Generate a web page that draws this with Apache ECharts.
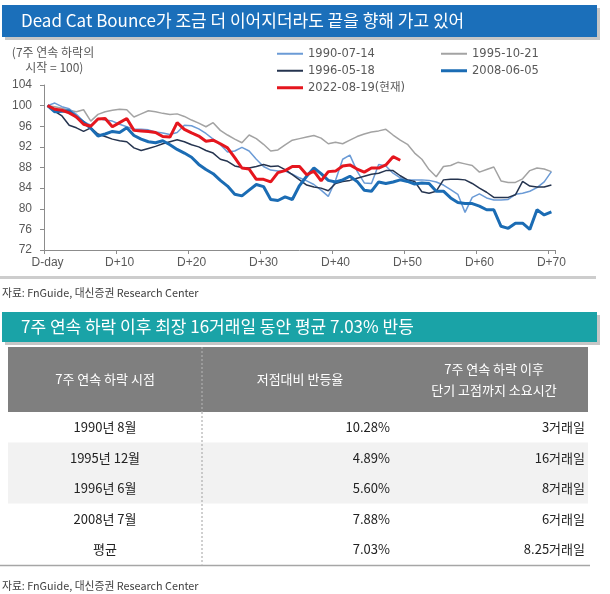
<!DOCTYPE html>
<html><head><meta charset="utf-8">
<script src="https://cdn.jsdelivr.net/npm/echarts@6/dist/echarts.min.js"></script>
<style>html,body{margin:0;padding:0;background:#fff;}#c{width:610px;height:594px;}</style>
</head><body><div id="c"></div>
<script>
// ---------- chart data ----------
const categories = Array.from({length: 71}, (_, i) => i === 0 ? 'D-day' : 'D+' + i);
const yMin = 72, yMax = 104, yStep = 4;
const s1990 = [100,100.5,99.8,99.4,98.3,96.9,96.2,97.5,97.2,97.0,96.4,95.9,95.4,95.4,95.3,94.9,94.7,94.4,94.8,96.2,96.1,95.5,94.6,93.5,92.4,91.0,91.2,91.9,91.2,89.6,88.2,87.5,87.3,87.3,86.7,86.0,85.4,84.7,83.6,82.4,85.5,89.6,90.4,87.3,85.0,84.9,88.6,88.3,86.9,86.0,85.6,85.6,85.6,85.5,85.2,84.6,83.7,82.8,79.3,82.2,82.9,82.1,81.7,81.7,81.8,82.8,83.0,83.4,84.1,85.2,87.2];
const s1995 = [100,99.8,99.5,99.1,98.8,99.2,97.0,98.3,98.8,99.1,99.3,99.2,97.8,98.4,99.0,98.8,98.5,98.3,98.4,97.9,97.2,96.6,95.9,96.7,95.2,94.3,93.5,92.8,94.3,93.6,92.5,91.2,91.4,92.4,93.3,93.6,93.9,94.2,93.7,92.6,92.9,92.6,93.3,94.0,94.5,94.9,95.1,95.4,94.3,93.3,92.5,90.8,89.6,87.6,86.2,88.2,88.4,89.0,88.7,88.4,87.1,87.6,88.1,85.4,85.1,85.1,85.8,87.4,87.9,87.7,87.2];
const s1996 = [100,98.9,98.0,96.2,95.7,95.0,95.7,94.5,94.0,93.5,93.2,93.0,91.8,91.3,91.7,92.1,92.6,93.0,93.4,93.0,92.4,92.0,91.3,90.8,89.6,89.2,88.3,88.0,87.9,88.2,88.6,88.2,88.3,87.6,86.6,85.6,84.6,84.2,84.0,83.5,84.9,85.3,85.5,85.9,86.3,86.7,86.9,87.4,87.4,86.4,85.6,85.3,83.3,83.0,83.4,85.6,85.7,85.7,85.6,84.9,84.0,83.2,82.2,82.2,82.2,82.7,85.3,84.4,84.2,84.2,84.6];
const s2008 = [100,98.8,98.9,99.0,97.8,96.8,95.6,94.1,94.5,95.0,94.8,95.7,94.2,93.5,93.0,92.8,93.2,92.4,91.5,90.8,90.0,88.6,87.6,86.8,85.5,84.4,82.8,82.5,83.6,84.7,84.3,81.8,81.6,82.3,81.8,84.5,86.3,87.9,86.8,85.5,85.2,85.6,86.3,85.3,83.6,83.4,85.2,84.9,85.2,85.6,85.3,84.8,85.0,84.9,83.4,83.4,82.1,81.2,81.0,81.0,80.5,79.8,79.8,76.6,76.2,77.2,77.2,76.0,79.8,78.8,79.4];
const s2022 = [100,99.3,99.1,98.6,97.8,96.4,96.0,97.4,97.5,95.9,96.7,97.5,95.2,95.1,95.0,94.8,94.0,93.9,96.7,95.4,94.7,94.1,93.1,93.3,92.6,91.8,89.9,87.9,87.7,85.7,85.7,85.2,87.0,87.4,88.2,88.2,86.6,87.3,85.4,87.2,87.3,88.3,88.5,87.7,87.1,87.9,87.9,88.5,90.1,89.4];
const seriesNames = ['1995-10-21','1990-07-14','1996-05-18','2008-06-05','2022-08-19(현재)'];
const seriesColors = ['#a3a3a3','#6b9bd6','#25344f','#1b6cb4','#e5161e'];
const seriesWidths = [1.5,1.5,1.5,3,3];
const seriesData = [s1995, s1990, s1996, s2008, s2022];

// ---------- texts ----------
const titleText = 'Dead Cat Bounce가 조금 더 이어지더라도 끝을 향해 가고 있어';
const yTitleLines = ['(7주 연속 하락의', ' 시작 = 100)'];
const sourceText = '자료: FnGuide, 대신증권 Research Center';
const tableTitle = '7주 연속 하락 이후 최장 16거래일 동안 평균 7.03% 반등';
const tableHeaders = ['7주 연속 하락 시점', '저점대비 반등율', '7주 연속 하락 이후\n단기 고점까지 소요시간'];
const tablePeriods = ['1990년 8월','1995년 12월','1996년 6월','2008년 7월','평균'];
const tableRebound = ['10.28%','4.89%','5.60%','7.88%','7.03%'];
const tableDays = ['3거래일','16거래일','8거래일','6거래일','8.25거래일'];
const shadedRows = [false, true, true, false, false];

const FONT = "'Liberation Sans', Arial, 'Noto Sans CJK KR', sans-serif";
const LFONT = "'DejaVu Sans', 'Noto Sans CJK KR', sans-serif";
const KFONT = "'Noto Sans CJK KR', 'Liberation Sans', sans-serif";

const chart = echarts.init(document.getElementById('c'), null, {renderer:'canvas'});

const legendPos = {
  '1990-07-14': [277, 48], '1995-10-21': [441, 48],
  '1996-05-18': [277, 65], '2008-06-05': [441, 65],
  '2022-08-19(현재)': [277, 82]
};
const legends = Object.keys(legendPos).map(n => {
  const i = seriesNames.indexOf(n);
  return {
    data: [n], left: legendPos[n][0], top: legendPos[n][1], padding: 0,
    icon: 'rect', itemWidth: 26, itemHeight: seriesWidths[i] > 2 ? 3 : 2,
    selectedMode: false,
    textStyle: {color: '#595959', fontSize: 11.5, fontFamily: LFONT}
  };
});

// table geometry
const tX = 8, tW = 580, hTop = 347, hH = 65, rowH = 30.5;
const colCenter1 = 105, colRight2 = 390, colRight3 = 585, colCenter2 = 300, colCenter3 = 494, divX = 202;
const g = [];
// title bar
g.push({type:'rect', shape:{x:5,y:8,width:595,height:32}, style:{fill:'#c6c6c6'}, z:1});
g.push({type:'rect', shape:{x:2,y:5,width:595,height:32}, style:{fill:'#1b6fba'}, z:2});
g.push({type:'text', style:{x:21,y:21,text:titleText,fill:'#ffffff',fontSize:17,fontFamily:KFONT,align:'left',verticalAlign:'middle'}, z:3});
// y title
yTitleLines.forEach((t, i) => g.push({type:'text', style:{x:53,y:52+i*15,text:t,fill:'#595959',fontSize:12,fontFamily:KFONT,align:'center',verticalAlign:'middle'}, z:3}));
// separator + source
g.push({type:'rect', shape:{x:0,y:276,width:596,height:3}, style:{fill:'#cdcdcd'}, z:1});
g.push({type:'text', style:{x:2,y:293,text:sourceText,fill:'#404040',fontSize:10.8,fontFamily:KFONT,align:'left',verticalAlign:'middle'}, z:3});
// teal bar
g.push({type:'rect', shape:{x:5,y:315,width:595,height:30}, style:{fill:'#c6c6c6'}, z:1});
g.push({type:'rect', shape:{x:2,y:312,width:595,height:30}, style:{fill:'#1aa3a7'}, z:2});
g.push({type:'text', style:{x:21,y:327,text:tableTitle,fill:'#ffffff',fontSize:17,fontFamily:KFONT,align:'left',verticalAlign:'middle'}, z:3});
// table header
g.push({type:'rect', shape:{x:tX,y:hTop,width:tW,height:hH}, style:{fill:'#7f7f7f'}, z:1});
const hc = hTop + hH/2;
g.push({type:'text', style:{x:colCenter1,y:hc,text:tableHeaders[0],fill:'#fff',fontSize:13,fontFamily:KFONT,align:'center',verticalAlign:'middle'}, z:3});
g.push({type:'text', style:{x:colCenter2,y:hc,text:tableHeaders[1],fill:'#fff',fontSize:13,fontFamily:KFONT,align:'center',verticalAlign:'middle'}, z:3});
g.push({type:'text', style:{x:colCenter3,y:hc,text:tableHeaders[2],fill:'#fff',fontSize:13,lineHeight:21,fontFamily:KFONT,align:'center',verticalAlign:'middle'}, z:3});
// rows
tablePeriods.forEach((p, i) => {
  const top = hTop + hH + i*rowH, cy = top + rowH/2;
  if (shadedRows[i]) g.push({type:'rect', shape:{x:tX,y:top,width:tW,height:rowH}, style:{fill:'#f2f2f2'}, z:1});
  g.push({type:'text', style:{x:colCenter1,y:cy,text:p,fill:'#222',fontSize:13,fontFamily:KFONT,align:'center',verticalAlign:'middle'}, z:3});
  g.push({type:'text', style:{x:colRight2,y:cy,text:tableRebound[i],fill:'#222',fontSize:13,fontFamily:KFONT,align:'right',verticalAlign:'middle'}, z:3});
  g.push({type:'text', style:{x:colRight3,y:cy,text:tableDays[i],fill:'#222',fontSize:13,fontFamily:KFONT,align:'right',verticalAlign:'middle'}, z:3});
});
const tBottom = hTop + hH + tablePeriods.length*rowH;
g.push({type:'line', shape:{x1:divX,y1:hTop,x2:divX,y2:hTop+hH}, style:{stroke:'#b8b8b8',lineWidth:1,lineDash:[2,2]}, z:2});
g.push({type:'line', shape:{x1:divX,y1:hTop+hH,x2:divX,y2:tBottom}, style:{stroke:'#a0a0a0',lineWidth:1,lineDash:[2,2]}, z:2});
g.push({type:'line', shape:{x1:0,y1:tBottom+1,x2:590,y2:tBottom+1}, style:{stroke:'#a6a6a6',lineWidth:1.5}, z:2});
g.push({type:'text', style:{x:2,y:586,text:sourceText,fill:'#404040',fontSize:10.8,fontFamily:KFONT,align:'left',verticalAlign:'middle'}, z:3});

chart.setOption({
  animation: false,
  backgroundColor: '#ffffff',
  legend: legends,
  grid: {left: 44, right: 55, top: 85, bottom: 344, containLabel: false},
  xAxis: {
    type: 'category', data: categories, boundaryGap: true,
    axisLine: {lineStyle: {color: '#8c8c8c', width: 1}},
    axisTick: {show: true, interval: 9, length: 4, lineStyle: {color: '#8c8c8c'}},
    axisLabel: {interval: 9, color: '#595959', fontSize: 12, fontFamily: FONT, margin: 7},
    splitLine: {show: false}
  },
  yAxis: {
    type: 'value', min: yMin, max: yMax, interval: yStep,
    axisLine: {show: true, lineStyle: {color: '#8c8c8c', width: 1}},
    axisTick: {show: true, length: 4, lineStyle: {color: '#8c8c8c'}},
    axisLabel: {color: '#595959', fontSize: 12, fontFamily: FONT, margin: 12},
    splitLine: {show: false}
  },
  series: seriesData.map((d, i) => ({
    name: seriesNames[i], type: 'line', data: d, symbol: 'none', smooth: false,
    color: seriesColors[i],
    lineStyle: {color: seriesColors[i], width: seriesWidths[i]},
    itemStyle: {color: seriesColors[i]},
    z: 2 + i
  })),
  graphic: g
});
</script></body></html>
